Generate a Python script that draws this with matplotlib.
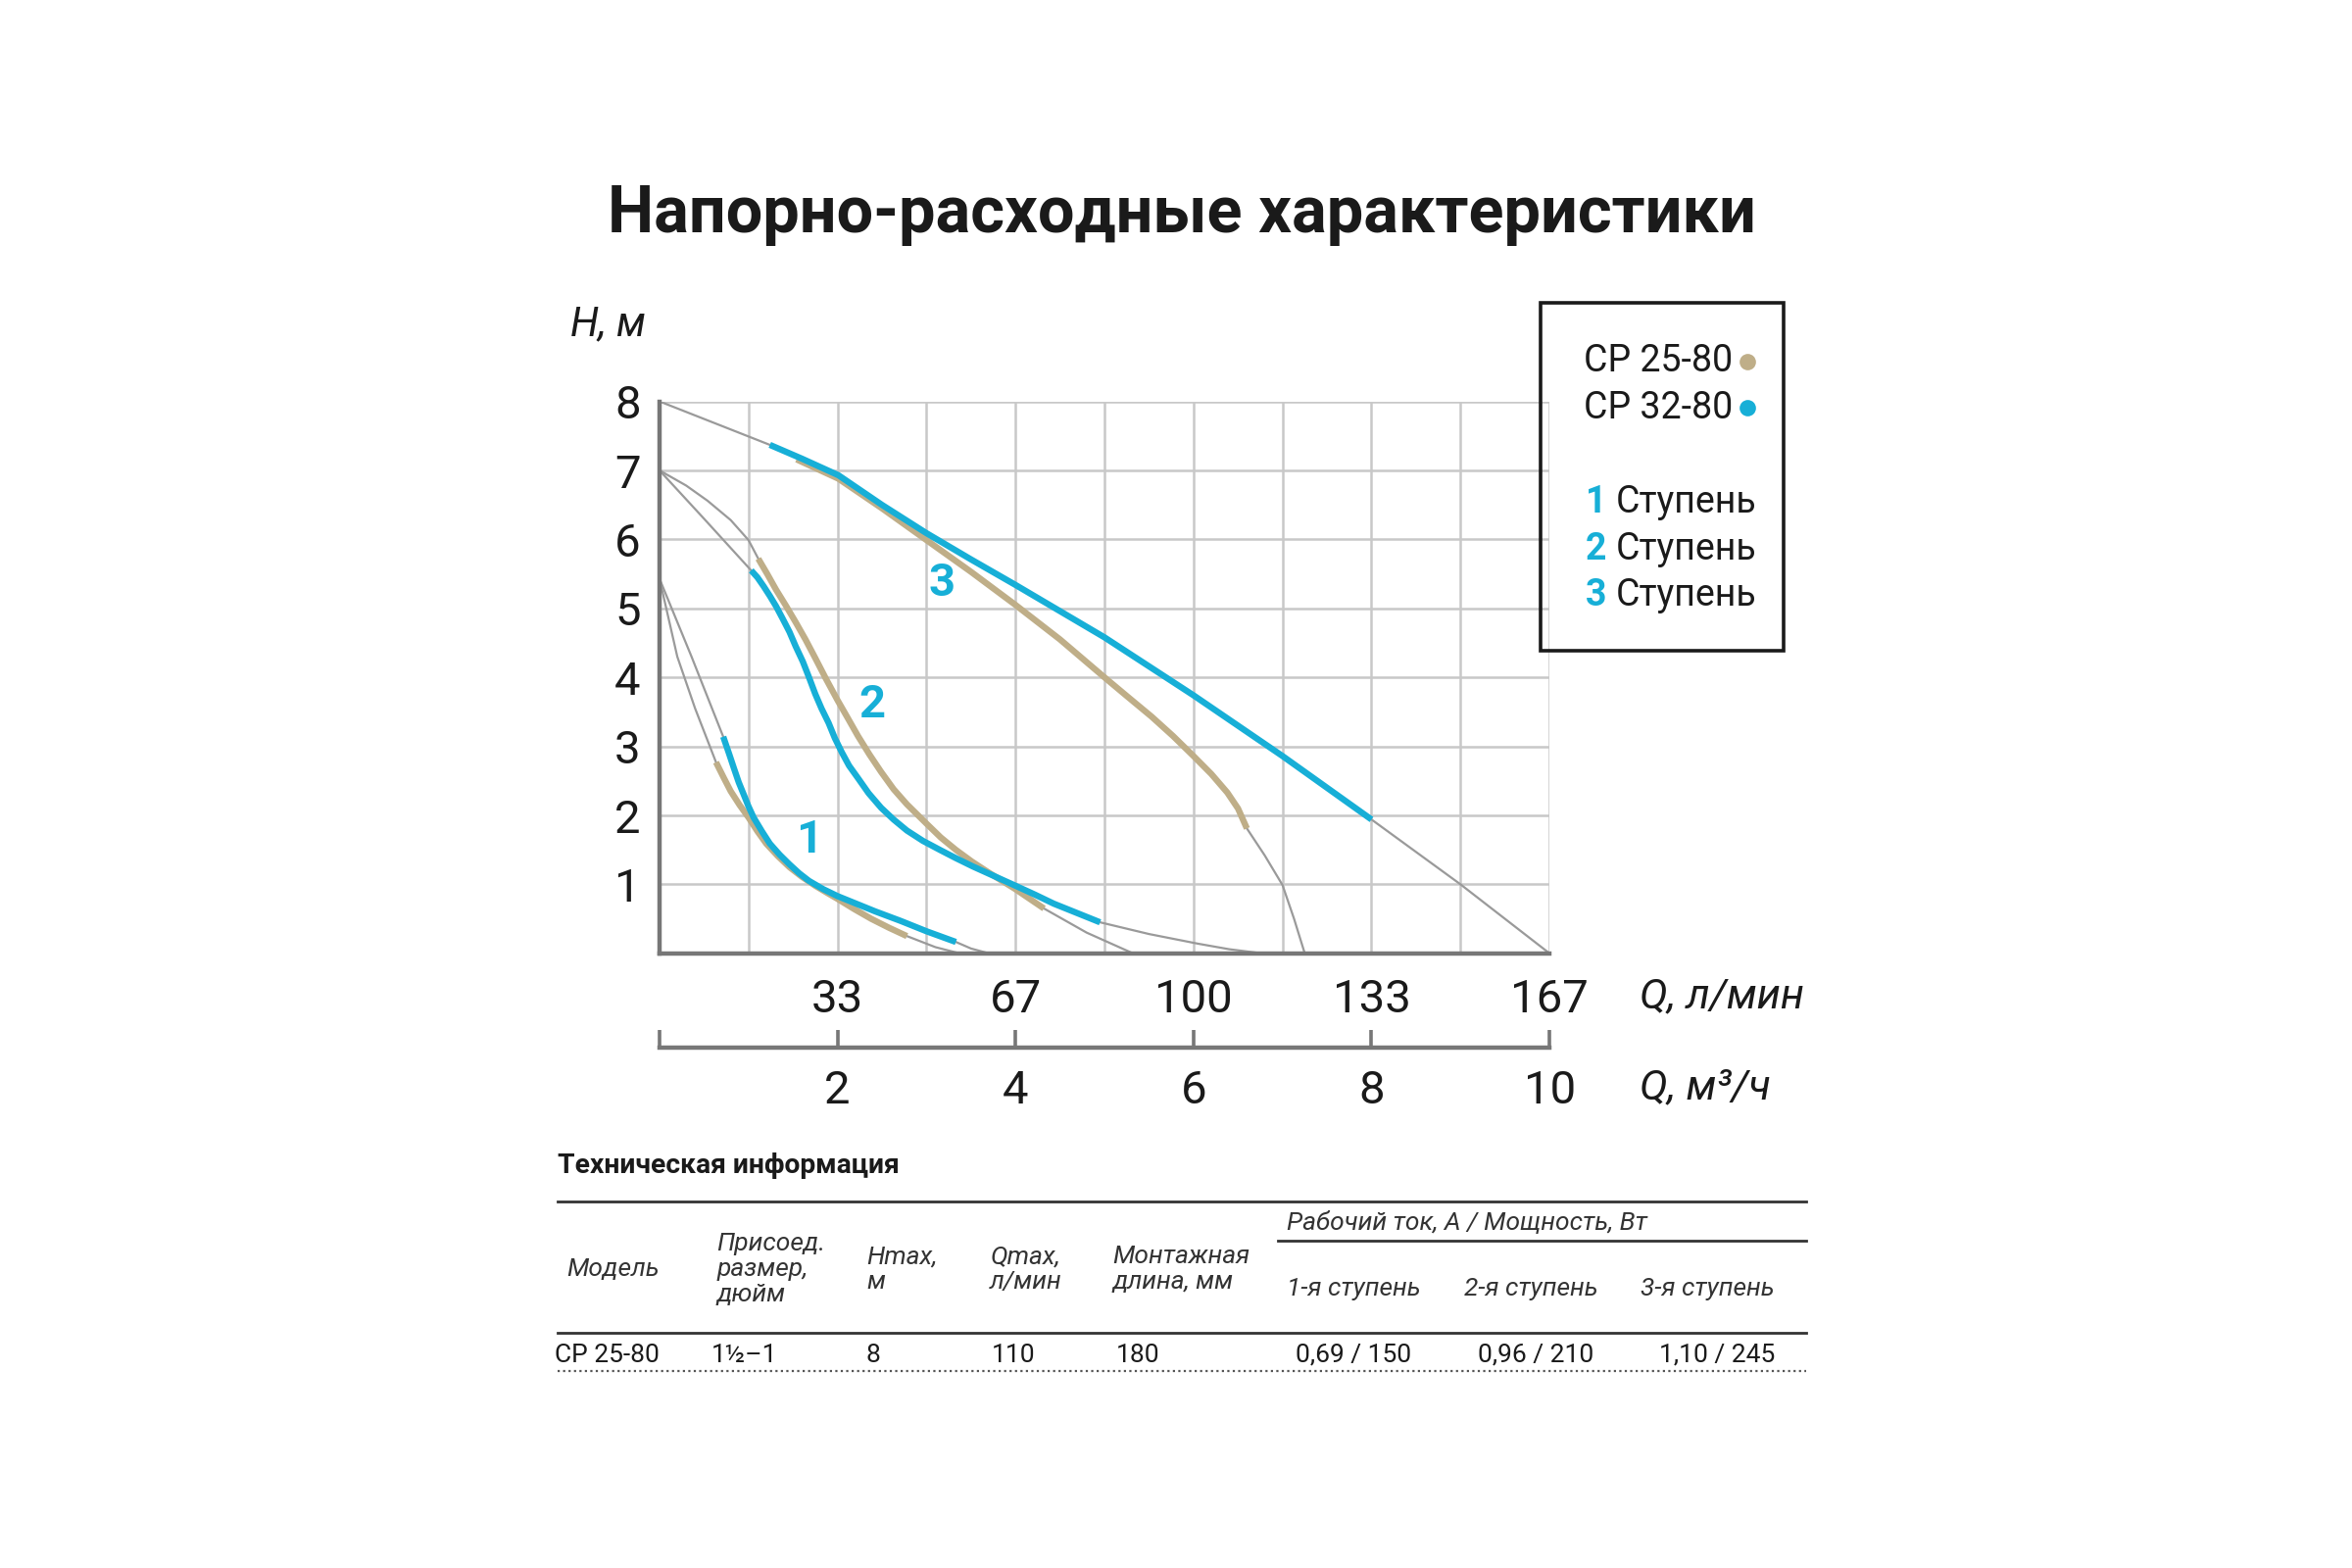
import matplotlib.pyplot as plt
from matplotlib.lines import Line2D
from matplotlib.patches import Rectangle

plt.rcParams['font.family'] = ['Roboto', 'DejaVu Sans']

# --- data (Q in m3/h, H in m) ---
TAN = '#bfae88'
BLUE = '#17afd7'
GREY = '#9a9a9a'

# CP 25-80 curves, stages 1..3
tan1_q = [0.635, 0.72, 0.80, 0.90, 1.0, 1.10, 1.20, 1.33, 1.46, 1.60, 1.75, 1.88, 2.0, 2.19, 2.38, 2.58, 2.78]
tan1_h = [2.77, 2.55, 2.35, 2.15, 1.97, 1.77, 1.59, 1.41, 1.25, 1.11, 0.98, 0.88, 0.79, 0.64, 0.50, 0.37, 0.25]
tan2_q = [1.11, 1.21, 1.31, 1.42, 1.53, 1.64, 1.75, 1.87, 2.0, 2.12, 2.23, 2.36, 2.49, 2.63, 2.78,
          2.89, 3.0, 3.16, 3.33, 3.51, 3.70, 3.85, 4.0, 4.16, 4.32]
tan2_h = [5.72, 5.50, 5.27, 5.04, 4.80, 4.55, 4.28, 3.98, 3.67, 3.40, 3.15, 2.88, 2.63, 2.38, 2.16,
          2.02, 1.88, 1.68, 1.50, 1.33, 1.17, 1.05, 0.93, 0.79, 0.65]
tan3_q = [1.54, 2.01, 2.5, 3.0, 3.5, 4.0, 4.5, 5.0, 5.25, 5.53, 5.77, 6.0, 6.2, 6.38, 6.5, 6.6]
tan3_h = [7.16, 6.88, 6.45, 5.99, 5.53, 5.05, 4.55, 4.0, 3.73, 3.43, 3.15, 2.86, 2.6, 2.33, 2.1, 1.81]

# CP 32-80 curves, stages 1..3
blue1_q = [0.716, 0.78, 0.837, 0.89, 0.947, 1.0, 1.057, 1.15, 1.24, 1.35, 1.46, 1.57, 1.68, 1.84, 2.0,
           2.21, 2.42, 2.71, 3.0, 3.33]
blue1_h = [3.14, 2.90, 2.68, 2.48, 2.30, 2.13, 1.97, 1.77, 1.59, 1.43, 1.29, 1.16, 1.05, 0.93, 0.83,
           0.72, 0.61, 0.47, 0.32, 0.165]
blue2_q = [1.03, 1.10, 1.17, 1.24, 1.31, 1.38, 1.46, 1.53, 1.61, 1.68, 1.75, 1.82, 1.90, 1.97, 2.05,
           2.13, 2.23, 2.35, 2.49, 2.63, 2.78, 2.96, 3.15, 3.33, 3.52, 3.76, 4.0, 4.22, 4.43, 4.70, 4.95]
blue2_h = [5.55, 5.45, 5.32, 5.18, 5.03, 4.86, 4.66, 4.45, 4.23, 4.00, 3.76, 3.55, 3.34, 3.12, 2.91,
           2.72, 2.54, 2.32, 2.11, 1.94, 1.78, 1.63, 1.50, 1.38, 1.26, 1.12, 0.98, 0.85, 0.72, 0.58, 0.45]
blue3_q = [1.24, 1.6, 2.01, 2.5, 3.0, 3.5, 4.0, 4.5, 5.0, 5.5, 6.0, 6.5, 7.0, 7.5, 8.0]
blue3_h = [7.37, 7.17, 6.93, 6.50, 6.09, 5.71, 5.34, 4.96, 4.58, 4.16, 3.74, 3.30, 2.86, 2.40, 1.94]

# thin grey extensions of the curves
grey_lines = [
    ([0, 0.36, 0.716], [5.43, 4.30, 3.14]),
    ([0, 0.2, 0.4, 0.635], [5.43, 4.30, 3.55, 2.77]),
    ([2.78, 3.1, 3.37], [0.25, 0.09, 0.0]),
    ([3.33, 3.5, 3.70], [0.165, 0.07, 0.0]),
    ([0, 0.3, 0.54, 0.8, 1.0, 1.11], [7.0, 6.78, 6.56, 6.28, 5.99, 5.72]),
    ([0, 0.5, 1.03], [7.0, 6.30, 5.55]),
    ([4.32, 4.8, 5.32], [0.65, 0.3, 0.0]),
    ([4.95, 5.5, 6.05, 6.4, 6.77], [0.45, 0.28, 0.14, 0.06, 0.0]),
    ([0, 1.24], [8.0, 7.37]),
    ([6.6, 6.8, 7.0, 7.13, 7.25], [1.81, 1.42, 0.99, 0.5, 0.0]),
    ([8.0, 9.0, 10.0], [1.94, 1.0, 0.0]),
]

stage_labels = ['1', '2', '3']
stage_label_q = [1.68, 2.39, 3.17]
stage_label_h = [1.64, 3.60, 5.36]

q_ticks = [2, 4, 6, 8, 10]
q_lmin_labels = ['33', '67', '100', '133', '167']
q_m3h_labels = ['2', '4', '6', '8', '10']
h_ticks = [1, 2, 3, 4, 5, 6, 7, 8]

legend_models = ['CP 25-80', 'CP 32-80']
legend_colors = [TAN, BLUE]

table_title = 'Техническая информация'
table_group = 'Рабочий ток, А / Мощность, Вт'
table_headers = ['Модель', 'Присоед.\nразмер,\nдюйм', 'Hmax,\nм', 'Qmax,\nл/мин', 'Монтажная\nдлина, мм']
table_stage_headers = ['1-я ступень', '2-я ступень', '3-я ступень']
table_row = ['CP 25-80', '1½–1', '8', '110', '180', '0,69 / 150', '0,96 / 210', '1,10 / 245']

# --- figure ---
fig = plt.figure(figsize=(12, 8), dpi=200)
fig.text(0.5026, 0.863, 'Напорно-расходные характеристики', ha='center', va='center',
         fontsize=24, fontweight='bold', color='#1a1a1a')

ax = fig.add_axes([0.2804, 0.392, 0.3784, 0.352])
ax.set_xlim(0, 10)
ax.set_ylim(0, 8)
ax.set_xticks(range(11))
ax.set_xticklabels([''] + [q_lmin_labels[q_ticks.index(i)] if i in q_ticks else '' for i in range(1, 11)])
ax.set_yticks(range(9))
ax.set_yticklabels([''] + [str(h) for h in h_ticks])
ax.tick_params(length=0, labelsize=17, colors='#1a1a1a')
ax.tick_params(axis='x', pad=9)
ax.tick_params(axis='y', pad=7)
ax.grid(True, color='#c8c8c8', lw=0.9)
ax.set_axisbelow(True)
for s in ['top', 'right']:
    ax.spines[s].set_visible(False)
for s in ['left', 'bottom']:
    ax.spines[s].set_color('#777777')
    ax.spines[s].set_linewidth(1.6)

for q, h in grey_lines:
    ax.plot(q, h, color=GREY, lw=0.8, zorder=2)

for q, h in [(tan1_q, tan1_h), (tan2_q, tan2_h), (tan3_q, tan3_h)]:
    ax.plot(q, h, color=TAN, lw=2.3, zorder=3, solid_capstyle='butt', solid_joinstyle='round')
for q, h in [(blue1_q, blue1_h), (blue2_q, blue2_h), (blue3_q, blue3_h)]:
    ax.plot(q, h, color=BLUE, lw=2.3, zorder=4, solid_capstyle='butt', solid_joinstyle='round')

for lab, q, h in zip(stage_labels, stage_label_q, stage_label_h):
    ax.text(q, h, lab, color=BLUE, fontsize=17, fontweight='bold', ha='center', va='center')

fig.text(0.2423, 0.7933, 'H, м', fontsize=15, style='italic', va='center', color='#1a1a1a')
fig.text(0.697, 0.3646, 'Q, л/мин', fontsize=15.5, style='italic', va='center', color='#1a1a1a')
fig.text(0.697, 0.3062, 'Q, м³/ч', fontsize=15.5, style='italic', va='center', color='#1a1a1a')

# second scale in m3/h
ax2 = fig.add_axes([0.2804, 0.332, 0.3784, 0.02])
ax2.set_xlim(0, 10)
ax2.set_ylim(0, 1)
ax2.set_yticks([])
ax2.set_xticks([0] + q_ticks)
ax2.set_xticklabels([''] + q_m3h_labels)
ax2.tick_params(axis='x', direction='in', length=6.5, width=1.3, color='#777777',
                labelsize=17, labelcolor='#1a1a1a', pad=8)
for s in ['top', 'right', 'left']:
    ax2.spines[s].set_visible(False)
ax2.spines['bottom'].set_color('#777777')
ax2.spines['bottom'].set_linewidth(1.6)
ax2.patch.set_alpha(0)

# legend box
fig.add_artist(Rectangle((0.655, 0.5847), 0.1033, 0.222, transform=fig.transFigure,
                         fill=False, edgecolor='#1a1a1a', lw=1.3))
for i, (name, col) in enumerate(zip(legend_models, legend_colors)):
    y = 0.7694 - i * 0.0297
    fig.text(0.6735, y, name, fontsize=13.5, va='center', color='#1a1a1a')
    fig.add_artist(Line2D([0.743], [y], marker='o', ms=5, color=col, transform=fig.transFigure))
for i, lab in enumerate(stage_labels):
    y = 0.6794 - i * 0.0297
    fig.text(0.6741, y, lab, fontsize=13.5, fontweight='bold', va='center', color=BLUE)
    fig.text(0.6869, y, 'Ступень', fontsize=13.5, va='center', color='#1a1a1a')

# technical table
tx0, tx1 = 0.2372, 0.7679
fig.text(tx0, 0.2565, table_title, fontsize=10.2, fontweight='bold', va='center', color='#1a1a1a')
fig.add_artist(Line2D([tx0, tx1], [0.2335, 0.2335], color='#333333', lw=1.0, transform=fig.transFigure))
fig.add_artist(Line2D([0.5434, tx1], [0.2086, 0.2086], color='#333333', lw=1.0, transform=fig.transFigure))
fig.add_artist(Line2D([tx0, tx1], [0.1502, 0.1502], color='#333333', lw=1.0, transform=fig.transFigure))
fig.add_artist(Line2D([tx0, tx1], [0.1254, 0.1254], color='#555555', lw=0.8, ls=(0, (1, 1.5)),
                      transform=fig.transFigure))

fig.text(0.5472, 0.2201, table_group, fontsize=9.5, style='italic', va='center', color='#333333')
header_x = [0.2411, 0.3048, 0.3686, 0.4209, 0.4732]
for x, t in zip(header_x, table_headers):
    fig.text(x, 0.1904, t, fontsize=9.5, style='italic', va='center', linespacing=1.1, color='#333333')
for x, t in zip([0.5472, 0.6224, 0.6977], table_stage_headers):
    fig.text(x, 0.178, t, fontsize=9.5, style='italic', va='center', color='#333333')
row_x = [0.236, 0.3023, 0.368, 0.4216, 0.4745, 0.551, 0.6282, 0.7054]
for x, t in zip(row_x, table_row):
    fig.text(x, 0.1359, t, fontsize=9.5, va='center', color='#1a1a1a')

fig.savefig('out.png', dpi=200, facecolor='white')
